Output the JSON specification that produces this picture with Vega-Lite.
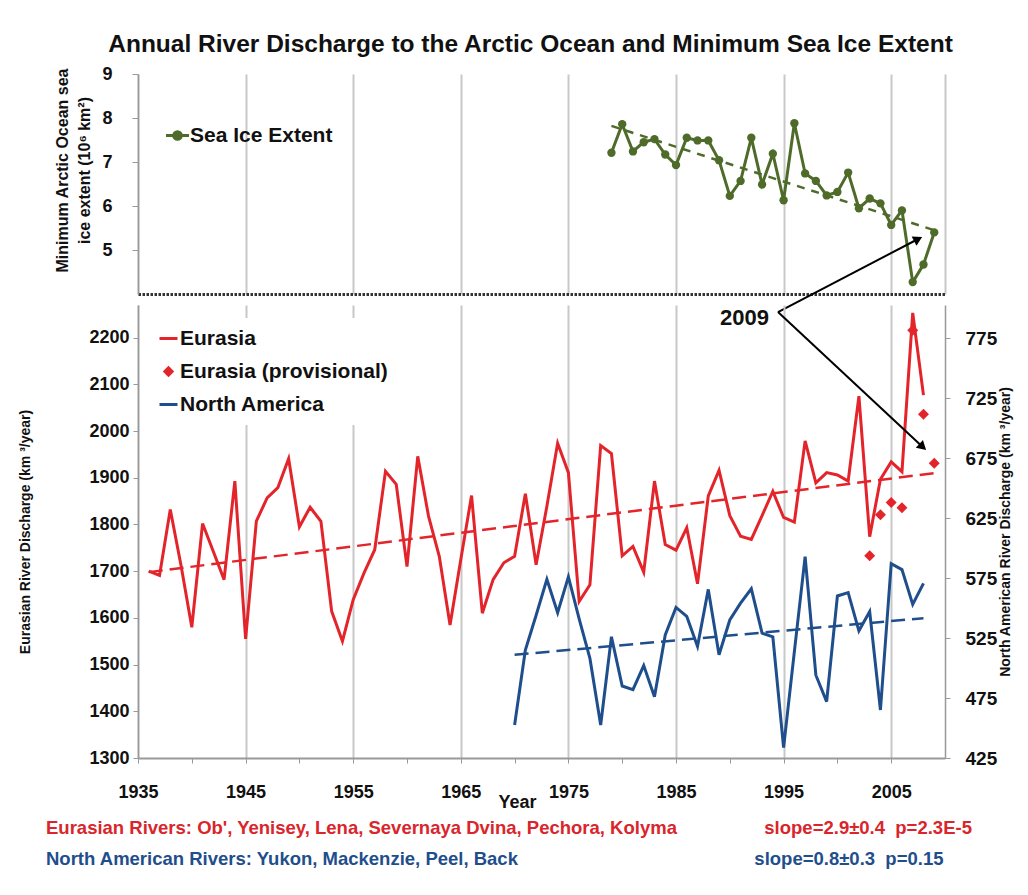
{
  "$schema": "https://vega.github.io/schema/vega-lite/v6.json",
  "background": "white",
  "padding": {"top": 31, "left": 18, "right": 12, "bottom": 20},
  "title": {"text": "Annual River Discharge to the Arctic Ocean and Minimum Sea Ice Extent", "font": "Liberation Sans", "fontSize": 24.5, "fontWeight": "bold", "color": "#111111", "anchor": "middle", "frame": "group", "offset": 8, "dx": -11},
  "config": {"font": "Liberation Sans", "view": {"stroke": null}},
  "bounds": "flush",
  "spacing": 11,
  "resolve": {"scale": {"color": "independent"}, "legend": {"color": "independent"}},
  "datasets": {
    "ice": [
      {"year": 1979, "v": 7.21, "series": "Sea Ice Extent"}, {"year": 1980, "v": 7.86, "series": "Sea Ice Extent"},
      {"year": 1981, "v": 7.24, "series": "Sea Ice Extent"}, {"year": 1982, "v": 7.45, "series": "Sea Ice Extent"},
      {"year": 1983, "v": 7.52, "series": "Sea Ice Extent"}, {"year": 1984, "v": 7.17, "series": "Sea Ice Extent"},
      {"year": 1985, "v": 6.93, "series": "Sea Ice Extent"}, {"year": 1986, "v": 7.55, "series": "Sea Ice Extent"},
      {"year": 1987, "v": 7.49, "series": "Sea Ice Extent"}, {"year": 1988, "v": 7.49, "series": "Sea Ice Extent"},
      {"year": 1989, "v": 7.04, "series": "Sea Ice Extent"}, {"year": 1990, "v": 6.23, "series": "Sea Ice Extent"},
      {"year": 1991, "v": 6.57, "series": "Sea Ice Extent"}, {"year": 1992, "v": 7.55, "series": "Sea Ice Extent"},
      {"year": 1993, "v": 6.49, "series": "Sea Ice Extent"}, {"year": 1994, "v": 7.19, "series": "Sea Ice Extent"},
      {"year": 1995, "v": 6.13, "series": "Sea Ice Extent"}, {"year": 1996, "v": 7.88, "series": "Sea Ice Extent"},
      {"year": 1997, "v": 6.74, "series": "Sea Ice Extent"}, {"year": 1998, "v": 6.57, "series": "Sea Ice Extent"},
      {"year": 1999, "v": 6.24, "series": "Sea Ice Extent"}, {"year": 2000, "v": 6.32, "series": "Sea Ice Extent"},
      {"year": 2001, "v": 6.76, "series": "Sea Ice Extent"}, {"year": 2002, "v": 5.95, "series": "Sea Ice Extent"},
      {"year": 2003, "v": 6.17, "series": "Sea Ice Extent"}, {"year": 2004, "v": 6.06, "series": "Sea Ice Extent"},
      {"year": 2005, "v": 5.57, "series": "Sea Ice Extent"}, {"year": 2006, "v": 5.90, "series": "Sea Ice Extent"},
      {"year": 2007, "v": 4.27, "series": "Sea Ice Extent"}, {"year": 2008, "v": 4.67, "series": "Sea Ice Extent"},
      {"year": 2009, "v": 5.40, "series": "Sea Ice Extent"}
    ],
    "iceTrend": [{"year": 1979, "v": 7.82}, {"year": 2009, "v": 5.45}],
    "arrowIce": [{"year": 1994.48, "v": 3.59}, {"year": 2007.5, "v": 5.25}],
    "arrowIceHead": [{"year": 2007.5, "v": 5.25}],
    "eurasia": [
      {"year": 1936, "q": 1700, "series": "Eurasia"}, {"year": 1937, "q": 1691, "series": "Eurasia"},
      {"year": 1938, "q": 1832, "series": "Eurasia"}, {"year": 1939, "q": 1712, "series": "Eurasia"},
      {"year": 1940, "q": 1580, "series": "Eurasia"}, {"year": 1941, "q": 1802, "series": "Eurasia"},
      {"year": 1942, "q": 1742, "series": "Eurasia"}, {"year": 1943, "q": 1682, "series": "Eurasia"},
      {"year": 1944, "q": 1893, "series": "Eurasia"}, {"year": 1945, "q": 1555, "series": "Eurasia"},
      {"year": 1946, "q": 1807, "series": "Eurasia"}, {"year": 1947, "q": 1857, "series": "Eurasia"},
      {"year": 1948, "q": 1879, "series": "Eurasia"}, {"year": 1949, "q": 1941, "series": "Eurasia"},
      {"year": 1950, "q": 1795, "series": "Eurasia"}, {"year": 1951, "q": 1837, "series": "Eurasia"},
      {"year": 1952, "q": 1807, "series": "Eurasia"}, {"year": 1953, "q": 1614, "series": "Eurasia"},
      {"year": 1954, "q": 1550, "series": "Eurasia"}, {"year": 1955, "q": 1639, "series": "Eurasia"},
      {"year": 1956, "q": 1696, "series": "Eurasia"}, {"year": 1957, "q": 1746, "series": "Eurasia"},
      {"year": 1958, "q": 1914, "series": "Eurasia"}, {"year": 1959, "q": 1886, "series": "Eurasia"},
      {"year": 1960, "q": 1710, "series": "Eurasia"}, {"year": 1961, "q": 1946, "series": "Eurasia"},
      {"year": 1962, "q": 1818, "series": "Eurasia"}, {"year": 1963, "q": 1732, "series": "Eurasia"},
      {"year": 1964, "q": 1585, "series": "Eurasia"}, {"year": 1965, "q": 1725, "series": "Eurasia"},
      {"year": 1966, "q": 1862, "series": "Eurasia"}, {"year": 1967, "q": 1610, "series": "Eurasia"},
      {"year": 1968, "q": 1682, "series": "Eurasia"}, {"year": 1969, "q": 1718, "series": "Eurasia"},
      {"year": 1970, "q": 1732, "series": "Eurasia"}, {"year": 1971, "q": 1866, "series": "Eurasia"},
      {"year": 1972, "q": 1714, "series": "Eurasia"}, {"year": 1973, "q": 1839, "series": "Eurasia"},
      {"year": 1974, "q": 1974, "series": "Eurasia"}, {"year": 1975, "q": 1911, "series": "Eurasia"},
      {"year": 1976, "q": 1635, "series": "Eurasia"}, {"year": 1977, "q": 1671, "series": "Eurasia"},
      {"year": 1978, "q": 1969, "series": "Eurasia"}, {"year": 1979, "q": 1952, "series": "Eurasia"},
      {"year": 1980, "q": 1733, "series": "Eurasia"}, {"year": 1981, "q": 1753, "series": "Eurasia"},
      {"year": 1982, "q": 1698, "series": "Eurasia"}, {"year": 1983, "q": 1893, "series": "Eurasia"},
      {"year": 1984, "q": 1757, "series": "Eurasia"}, {"year": 1985, "q": 1745, "series": "Eurasia"},
      {"year": 1986, "q": 1793, "series": "Eurasia"}, {"year": 1987, "q": 1673, "series": "Eurasia"},
      {"year": 1988, "q": 1861, "series": "Eurasia"}, {"year": 1989, "q": 1916, "series": "Eurasia"},
      {"year": 1990, "q": 1819, "series": "Eurasia"}, {"year": 1991, "q": 1775, "series": "Eurasia"},
      {"year": 1992, "q": 1768, "series": "Eurasia"}, {"year": 1993, "q": 1819, "series": "Eurasia"},
      {"year": 1994, "q": 1871, "series": "Eurasia"}, {"year": 1995, "q": 1815, "series": "Eurasia"},
      {"year": 1996, "q": 1805, "series": "Eurasia"}, {"year": 1997, "q": 1979, "series": "Eurasia"},
      {"year": 1998, "q": 1889, "series": "Eurasia"}, {"year": 1999, "q": 1911, "series": "Eurasia"},
      {"year": 2000, "q": 1906, "series": "Eurasia"}, {"year": 2001, "q": 1893, "series": "Eurasia"},
      {"year": 2002, "q": 2075, "series": "Eurasia"}, {"year": 2003, "q": 1774, "series": "Eurasia"},
      {"year": 2004, "q": 1897, "series": "Eurasia"}, {"year": 2005, "q": 1934, "series": "Eurasia"},
      {"year": 2006, "q": 1913, "series": "Eurasia"}, {"year": 2007, "q": 2253, "series": "Eurasia"},
      {"year": 2008, "q": 2077, "series": "Eurasia"}
    ],
    "eurasiaProv": [
      {"year": 2003, "q": 1733, "series": "Eurasia (provisional)"}, {"year": 2004, "q": 1821, "series": "Eurasia (provisional)"},
      {"year": 2005, "q": 1847, "series": "Eurasia (provisional)"}, {"year": 2006, "q": 1836, "series": "Eurasia (provisional)"},
      {"year": 2007, "q": 2216, "series": "Eurasia (provisional)"}, {"year": 2008, "q": 2036, "series": "Eurasia (provisional)"},
      {"year": 2009, "q": 1931, "series": "Eurasia (provisional)"}
    ],
    "eurasiaTrend": [{"year": 1936, "q": 1698}, {"year": 2009, "q": 1910}],
    "arrowQ": [{"year": 1994.48, "q": 2255}, {"year": 2007.93, "q": 1966}],
    "arrowQHead": [{"year": 2007.93, "q": 1966}],
    "arrowQLabel": [{"year": 1994.48, "q": 2255, "label": "2009"}],
    "na": [
      {"year": 1970, "q": 452.5, "series": "North America"}, {"year": 1971, "q": 515, "series": "North America"},
      {"year": 1972, "q": 544, "series": "North America"}, {"year": 1973, "q": 574, "series": "North America"},
      {"year": 1974, "q": 546, "series": "North America"}, {"year": 1975, "q": 576, "series": "North America"},
      {"year": 1976, "q": 541, "series": "North America"}, {"year": 1977, "q": 508, "series": "North America"},
      {"year": 1978, "q": 452.5, "series": "North America"}, {"year": 1979, "q": 526, "series": "North America"},
      {"year": 1980, "q": 485, "series": "North America"}, {"year": 1981, "q": 482, "series": "North America"},
      {"year": 1982, "q": 502, "series": "North America"}, {"year": 1983, "q": 476, "series": "North America"},
      {"year": 1984, "q": 527.5, "series": "North America"}, {"year": 1985, "q": 550.5, "series": "North America"},
      {"year": 1986, "q": 543, "series": "North America"}, {"year": 1987, "q": 518, "series": "North America"},
      {"year": 1988, "q": 565.5, "series": "North America"}, {"year": 1989, "q": 511, "series": "North America"},
      {"year": 1990, "q": 540, "series": "North America"}, {"year": 1991, "q": 554, "series": "North America"},
      {"year": 1992, "q": 566, "series": "North America"}, {"year": 1993, "q": 529, "series": "North America"},
      {"year": 1994, "q": 526, "series": "North America"}, {"year": 1995, "q": 433.6, "series": "North America"},
      {"year": 1996, "q": 513.6, "series": "North America"}, {"year": 1997, "q": 592.8, "series": "North America"},
      {"year": 1998, "q": 494, "series": "North America"}, {"year": 1999, "q": 472, "series": "North America"},
      {"year": 2000, "q": 560, "series": "North America"}, {"year": 2001, "q": 562.8, "series": "North America"},
      {"year": 2002, "q": 531, "series": "North America"}, {"year": 2003, "q": 547, "series": "North America"},
      {"year": 2004, "q": 465, "series": "North America"}, {"year": 2005, "q": 587, "series": "North America"},
      {"year": 2006, "q": 582, "series": "North America"}, {"year": 2007, "q": 553, "series": "North America"},
      {"year": 2008, "q": 570.5, "series": "North America"}
    ],
    "naTrend": [{"year": 1970, "q": 511}, {"year": 2008, "q": 541.5}]
  },
  "vconcat": [
    {
      "width": 807,
      "height": 220,
      "encoding": {
        "x": {"field": "year", "type": "quantitative",
          "scale": {"domain": [1935, 2010], "nice": false, "zero": false},
          "axis": {"title": null, "values": [1935, 1940, 1945, 1950, 1955, 1960, 1965, 1970, 1975, 1980, 1985, 1990, 1995, 2000, 2005, 2010],
            "labels": false, "ticks": false, "grid": true, "gridColor": "#c8c8c8", "gridWidth": 2,
            "gridOpacity": {"condition": {"test": "datum.value % 10 === 5 || datum.value === 2010", "value": 1}, "value": 0},
            "domainColor": "#333333", "domainWidth": 3, "domainDash": [2.5, 1.5]}},
        "y": {"field": "v", "type": "quantitative",
          "scale": {"domain": [4, 9], "nice": false, "zero": false},
          "axis": {"title": ["Minimum Arctic Ocean sea", "ice extent (10\u2076 km\u00b2)"], "values": [5, 6, 7, 8, 9], "grid": false,
            "domainColor": "#999999", "domainWidth": 1.5, "tickColor": "#999999", "tickSize": 6, "labelPadding": 20,
            "labelFontSize": 18, "labelFontWeight": "bold", "labelColor": "#111111",
            "titleFontSize": 16, "titleFontWeight": "bold", "titleColor": "#111111", "titleLineHeight": 22, "titlePadding": 9, "titleY": 96}}
      },
      "layer": [
        {"data": {"name": "iceTrend"}, "mark": {"type": "line", "color": "#4f6b2a", "strokeWidth": 2.5, "strokeDash": [8, 7]}},
        {"data": {"name": "ice"}, "mark": {"type": "line", "strokeWidth": 3, "point": {"filled": true, "size": 70}},
          "encoding": {"color": {"field": "series", "type": "nominal", "scale": {"range": ["#4f6b2a"]},
            "legend": {"title": null, "orient": "none", "legendX": 28, "legendY": 50,
              "symbolType": "M-1.15,0L1.15,0M0.38,0A0.38,0.38,0,1,1,-0.38,0A0.38,0.38,0,1,1,0.38,0Z",
              "symbolSize": 400, "symbolStrokeWidth": 3, "symbolFillColor": "#4f6b2a", "symbolStrokeColor": "#4f6b2a",
              "labelFontSize": 21, "labelFontWeight": "bold", "labelColor": "#111111", "labelOffset": 1, "labelLimit": 0}}}},
        {"data": {"name": "arrowIce"}, "mark": {"type": "line", "color": "#000000", "strokeWidth": 2}},
        {"data": {"name": "arrowIceHead"}, "mark": {"type": "point", "shape": "triangle-up", "filled": true, "color": "#000000", "opacity": 1, "size": 110, "angle": 62.5}}
      ]
    },
    {
      "width": 807,
      "height": 453,
      "title": {
        "text": "Eurasian Rivers: Ob', Yenisey, Lena, Severnaya Dvina, Pechora, Kolyma\u00a0\u00a0\u00a0\u00a0\u00a0\u00a0\u00a0\u00a0\u00a0\u00a0\u00a0\u00a0\u00a0\u00a0\u00a0\u00a0\u00a0slope=2.9\u00b10.4\u00a0\u00a0p=2.3E-5",
        "subtitle": "North American Rivers: Yukon, Mackenzie, Peel, Back\u00a0\u00a0\u00a0\u00a0\u00a0\u00a0\u00a0\u00a0\u00a0\u00a0\u00a0\u00a0\u00a0\u00a0\u00a0\u00a0\u00a0\u00a0\u00a0\u00a0\u00a0\u00a0\u00a0\u00a0\u00a0\u00a0\u00a0\u00a0\u00a0\u00a0\u00a0\u00a0\u00a0\u00a0\u00a0\u00a0\u00a0\u00a0\u00a0\u00a0\u00a0\u00a0\u00a0\u00a0\u00a0\u00a0slope=0.8\u00b10.3\u00a0\u00a0p=0.15",
        "orient": "bottom", "anchor": "start", "frame": "group", "dx": -92, "offset": 8,
        "font": "Liberation Sans", "fontSize": 18.5, "fontWeight": "bold", "color": "#d9252b",
        "subtitleFont": "Liberation Sans", "subtitleFontSize": 18.5, "subtitleFontWeight": "bold", "subtitleColor": "#1f4e8c", "subtitlePadding": 12
      },
      "encoding": {
        "x": {"field": "year", "type": "quantitative",
          "scale": {"domain": [1935, 2010], "nice": false, "zero": false},
          "axis": {"title": "Year", "values": [1935, 1940, 1945, 1950, 1955, 1960, 1965, 1970, 1975, 1980, 1985, 1990, 1995, 2000, 2005],
            "format": "d", "labelExpr": "datum.value % 10 === 5 ? datum.label : ''", "labelFlush": false, "labelOverlap": false,
            "grid": true, "gridColor": "#c8c8c8", "gridWidth": 2,
            "gridOpacity": {"condition": {"test": "datum.value % 10 === 5", "value": 1}, "value": 0},
            "domainColor": "#999999", "domainWidth": 2, "tickColor": "#999999", "tickSize": 5, "labelPadding": 20,
            "labelFontSize": 18, "labelFontWeight": "bold", "labelColor": "#111111",
            "titleFontSize": 18, "titleFontWeight": "bold", "titleColor": "#111111", "titleX": 379, "titleY": 35}}
      },
      "resolve": {"scale": {"y": "independent"}},
      "layer": [
        {
          "encoding": {"y": {"field": "q", "type": "quantitative",
            "scale": {"domain": [1300, 2270], "nice": false, "zero": false},
            "axis": {"title": "Eurasian River Discharge (km \u00b3/year)", "values": [1300, 1400, 1500, 1600, 1700, 1800, 1900, 2000, 2100, 2200], "format": "d",
              "grid": false, "domainColor": "#999999", "domainWidth": 1.5, "tickColor": "#999999", "tickSize": 5, "labelPadding": 4,
              "labelFontSize": 18, "labelFontWeight": "bold", "labelColor": "#111111",
              "titleFontSize": 14, "titleFontWeight": "bold", "titleColor": "#111111", "titlePadding": 56}}},
          "layer": [
            {"data": {"name": "eurasiaTrend"}, "mark": {"type": "line", "color": "#e3242b", "strokeWidth": 2.5, "strokeDash": [14, 7]}},
            {"data": {"name": "eurasia"}, "mark": {"type": "line", "strokeWidth": 3},
              "encoding": {"color": {"field": "series", "type": "nominal",
                "scale": {"domain": ["Eurasia", "Eurasia (provisional)", "North America"], "range": ["#e3242b", "#e3242b", "#1f4e8c"]},
                "legend": {"title": null, "orient": "none", "legendX": 10, "legendY": 13, "padding": 10, "fillColor": "white",
                  "symbolType": "stroke", "symbolSize": 324, "symbolStrokeWidth": 3,
                  "labelFontSize": 21, "labelFontWeight": "bold", "labelColor": "#111111", "labelOffset": 1, "labelLimit": 0, "rowPadding": 11,
                  "encode": {"symbols": {"update": {
                    "shape": {"signal": "datum.value === 'Eurasia (provisional)' ? 'diamond' : 'stroke'"},
                    "size": {"signal": "datum.value === 'Eurasia (provisional)' ? 130 : 324"},
                    "fill": {"signal": "datum.value === 'Eurasia (provisional)' ? '#e3242b' : 'transparent'"},
                    "stroke": {"signal": "datum.value === 'North America' ? '#1f4e8c' : '#e3242b'"},
                    "strokeWidth": {"signal": "datum.value === 'Eurasia (provisional)' ? 0 : 3"},
                    "opacity": {"value": 1}}}}}}}},
            {"data": {"name": "eurasiaProv"}, "mark": {"type": "point", "shape": "diamond", "filled": true, "size": 120, "opacity": 1},
              "encoding": {"color": {"field": "series", "type": "nominal"}}},
            {"data": {"name": "arrowQ"}, "mark": {"type": "line", "color": "#000000", "strokeWidth": 2}},
            {"data": {"name": "arrowQHead"}, "mark": {"type": "point", "shape": "triangle-up", "filled": true, "color": "#000000", "opacity": 1, "size": 110, "angle": 132.8}},
            {"data": {"name": "arrowQLabel"}, "mark": {"type": "text", "align": "right", "baseline": "middle", "dx": -9, "dy": 6, "fontSize": 22, "fontWeight": "bold", "color": "#111111"},
              "encoding": {"text": {"field": "label", "type": "nominal"}}}
          ]
        },
        {
          "encoding": {"y": {"field": "q", "type": "quantitative",
            "scale": {"domain": [425, 802.5], "nice": false, "zero": false},
            "axis": {"orient": "right", "title": "North American River Discharge (km \u00b3/year)", "values": [425, 475, 525, 575, 625, 675, 725, 775],
              "grid": false, "domainColor": "#999999", "domainWidth": 1.5, "tickColor": "#999999", "tickSize": 5, "labelPadding": 15,
              "labelFontSize": 19, "labelFontWeight": "bold", "labelColor": "#111111",
              "titleFontSize": 14, "titleFontWeight": "bold", "titleColor": "#111111", "titleAngle": 270, "titlePadding": 16}}},
          "layer": [
            {"data": {"name": "naTrend"}, "mark": {"type": "line", "color": "#1f4e8c", "strokeWidth": 2.5, "strokeDash": [14, 7]}},
            {"data": {"name": "na"}, "mark": {"type": "line", "strokeWidth": 3},
              "encoding": {"color": {"field": "series", "type": "nominal"}}}
          ]
        }
      ]
    }
  ]
}
